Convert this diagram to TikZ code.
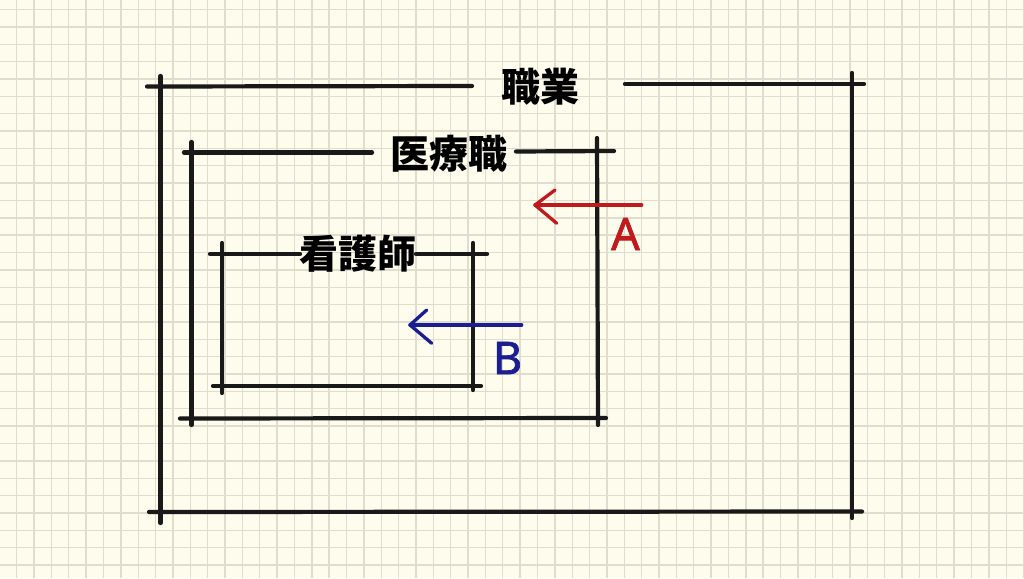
\documentclass[tikz,border=0pt]{standalone}
\usepackage{fontspec}
\newfontfamily\cjk{Noto Sans CJK JP}
\newfontfamily\handfont[FakeBold=1.6]{Noto Sans}
\definecolor{paper}{RGB}{254,252,236}
\definecolor{gridc}{RGB}{225,221,204}
\definecolor{redA}{RGB}{192,26,30}
\definecolor{blueB}{RGB}{26,30,145}
\begin{document}
\begin{tikzpicture}[x=1pt,y=-1pt,
  gridline/.style={gridc, line width=1.4pt},
  bline/.style={line width=4.2pt, line cap=round, black!90},
  boxlabel/.style={inner sep=0pt, font=\cjk\bfseries\fontsize{39}{39}\selectfont},
  arrowline/.style={line width=3.3pt, line cap=round, line join=round},
  arrowlabel/.style={inner sep=0pt, font=\handfont\fontsize{45}{45}\selectfont}]
\useasboundingbox (0,0) rectangle (1024,578);
\fill[paper] (0,0) rectangle (1024,578);
\foreach \k in {0,...,58} \draw[gridline] ({16.7+17.36*\k},0) -- ++(0,578);
\foreach \k in {0,...,32} \draw[gridline] (0,{9.5+17.36*\k}) -- ++(1024,0);
% outer box: 職業
\draw[bline] (147,86.5) -- (472,86);
\draw[bline] (625,84) -- (864,84);
\draw[bline] (160.5,76) -- (160.5,523);
\draw[bline] (852,73) -- (852,518);
\draw[bline] (149,512) -- (862,511.5);
\node[boxlabel] (shokugyo) at (540,87) {職業};
% middle box: 医療職
\draw[bline] (184,152.5) -- (372,152.5);
\draw[bline] (516,151.5) -- (614,151);
\draw[bline] (191.5,142) -- (191.5,425);
\draw[bline] (597,138) -- (598,425);
\draw[bline] (180,418.5) -- (606,418);
\node[boxlabel] (iryoshoku) at (449,154) {医療職};
% inner box: 看護師
\draw[bline] (210,254) -- (300,254);
\draw[bline] (416,254) -- (487,254);
\draw[bline] (222,243) -- (222,393);
\draw[bline] (473,243) -- (473,390);
\draw[bline] (213,386) -- (481,386);
\node[boxlabel] (kangoshi) at (358,254) {看護師};
% arrow A
\coordinate (atail) at (641.7,205);
\coordinate (atip) at (535,205);
\coordinate (abarb1) at (555,190);
\coordinate (abarb2) at (556.7,223.3);
\draw[arrowline, redA] (atail) -- (atip);
\draw[arrowline, redA] (abarb1) -- (atip) -- (abarb2);
\node[arrowlabel, text=redA] (labelA) at (625.5,234) {A};
% arrow B
\coordinate (btail) at (521.7,325);
\coordinate (btip) at (410,325);
\coordinate (bbarb1) at (426.7,310);
\coordinate (bbarb2) at (431.7,343.3);
\draw[arrowline, blueB] (btail) -- (btip);
\draw[arrowline, blueB] (bbarb1) -- (btip) -- (bbarb2);
\node[arrowlabel, text=blueB] (labelB) at (507.5,358) {B};
\end{tikzpicture}
\end{document}
